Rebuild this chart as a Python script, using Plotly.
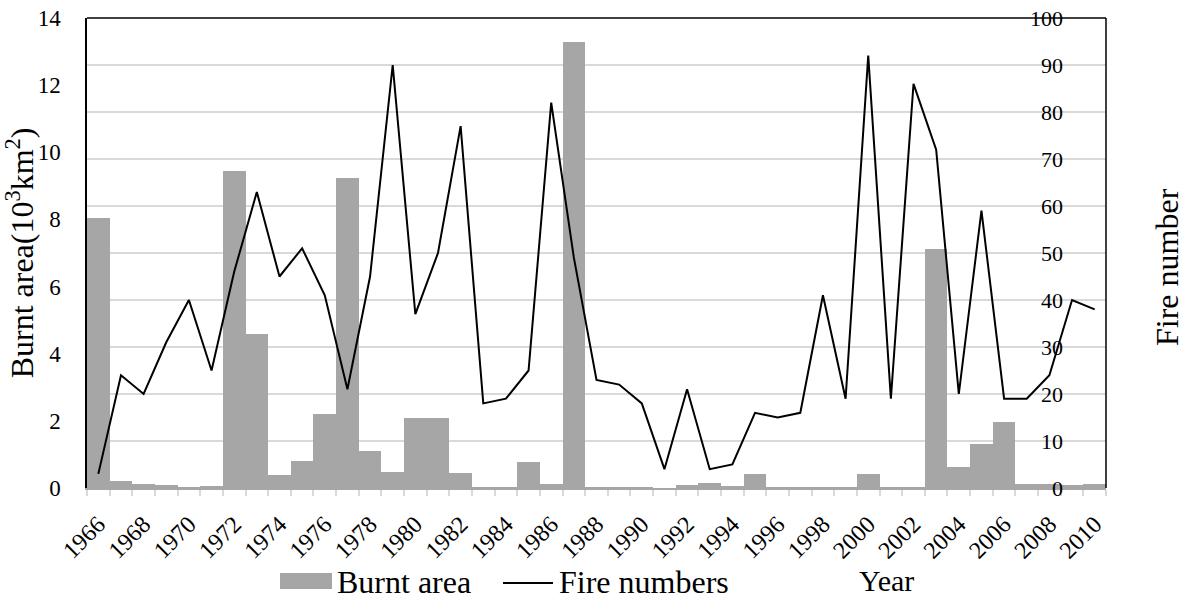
import plotly.graph_objects as go

years = list(range(1966, 2011))
burnt_area = [8.05, 0.21, 0.11, 0.09, 0.02, 0.05, 9.45, 4.59, 0.40, 0.80,
              2.19, 9.22, 1.09, 0.48, 2.08, 2.10, 0.46, 0.01, 0.02, 0.76,
              0.12, 13.28, 0.01, 0.01, 0.01, 0.0, 0.08, 0.14, 0.05, 0.42,
              0.01, 0.01, 0.01, 0.01, 0.43, 0.01, 0.01, 7.12, 0.63, 1.30,
              1.96, 0.13, 0.11, 0.09, 0.13]
fire_numbers = [3, 24, 20, 31, 40, 25, 46, 63, 45, 51,
                41, 21, 45, 90, 37, 50, 77, 18, 19, 25,
                82, 49, 23, 22, 18, 4, 21, 4, 5, 16,
                15, 16, 41, 19, 92, 19, 86, 72, 20, 59,
                19, 19, 24, 40, 38]
tick_years = list(range(1966, 2011, 2))

FONT = "Liberation Serif"
W, H = 1192, 599
L, R, T, B = 87, 1106, 18, 488


def px(x):
    return (x - L) / (R - L)


def py(y):
    return (B - y) / (B - T)


fig = go.Figure()
fig.add_trace(go.Bar(x=years, y=burnt_area, name="Burnt area",
                     marker=dict(color="#A6A6A6", line=dict(width=0)),
                     width=1.0, yaxis="y"))
fig.add_trace(go.Scatter(x=years, y=fire_numbers, name="Fire numbers",
                         mode="lines", line=dict(color="black", width=2),
                         yaxis="y2"))

fig.update_layout(
    width=W, height=H,
    margin=dict(l=L, r=W - R, t=T, b=H - B, pad=0, autoexpand=False),
    paper_bgcolor="white", plot_bgcolor="white",
    font=dict(family=FONT, color="black", size=22),
    showlegend=False,
    bargap=0,
    xaxis=dict(
        range=[1965.5, 2010.5], tickvals=tick_years,
        ticktext=[str(y) for y in tick_years],
        tickangle=-45, ticks="", tickfont=dict(size=24, family=FONT),
        showgrid=False, zeroline=False, automargin=False,
        showline=True, linecolor="#A6A6A6", linewidth=1.5,
        minor=dict(tick0=1965.5, dtick=1, ticks="outside", ticklen=6,
                   tickcolor="#D9D9D9", tickwidth=1.5, showgrid=False),
        ticklabelstandoff=11,
    ),
    yaxis=dict(
        range=[0, 14], dtick=2, showgrid=False, zeroline=False,
        automargin=False,
        showline=True, linecolor="black", linewidth=1.5,
        ticks="", tickfont=dict(size=23, family=FONT), ticklabelstandoff=20,
        title=dict(text="Burnt area(10<sup>3</sup>km<sup>2</sup>)",
                   font=dict(size=32, family=FONT), standoff=3),
    ),
    yaxis2=dict(
        range=[0, 100], dtick=10, overlaying="y", side="left",
        anchor="free", position=px(1065), automargin=False,
        showgrid=True, gridcolor="#D9D9D9", gridwidth=1.5,
        zeroline=False, showline=False,
        ticks="", ticklabelstandoff=2,
        tickfont=dict(size=22, family=FONT),
    ),
    shapes=[
        dict(type="line", xref="paper", yref="paper", x0=0, x1=1, y0=1, y1=1,
             line=dict(color="black", width=1.5)),
        dict(type="line", xref="paper", yref="paper", x0=1, x1=1, y0=0, y1=1,
             line=dict(color="black", width=1.5)),
        dict(type="rect", xref="paper", yref="paper",
             x0=px(280), x1=px(332), y0=py(589), y1=py(573),
             fillcolor="#A6A6A6", line=dict(width=0)),
        dict(type="line", xref="paper", yref="paper",
             x0=px(503), x1=px(553), y0=py(583), y1=py(583),
             line=dict(color="black", width=2)),
    ],
    annotations=[
        dict(text="Burnt area", xref="paper", yref="paper", x=px(335), y=py(582),
             xanchor="left", yanchor="middle", showarrow=False,
             font=dict(size=32, family=FONT)),
        dict(text="Fire numbers", xref="paper", yref="paper", x=px(557), y=py(582),
             xanchor="left", yanchor="middle", showarrow=False,
             font=dict(size=32, family=FONT)),
        dict(text="Year", xref="paper", yref="paper", x=px(857), y=py(580),
             xanchor="left", yanchor="middle", showarrow=False,
             font=dict(size=30, family=FONT)),
        dict(text="Fire number", xref="paper", yref="paper", x=px(1167), y=py(267),
             xanchor="center", yanchor="middle", textangle=-90, showarrow=False,
             font=dict(size=32, family=FONT)),
    ],
)

fig.write_html("out.html")
